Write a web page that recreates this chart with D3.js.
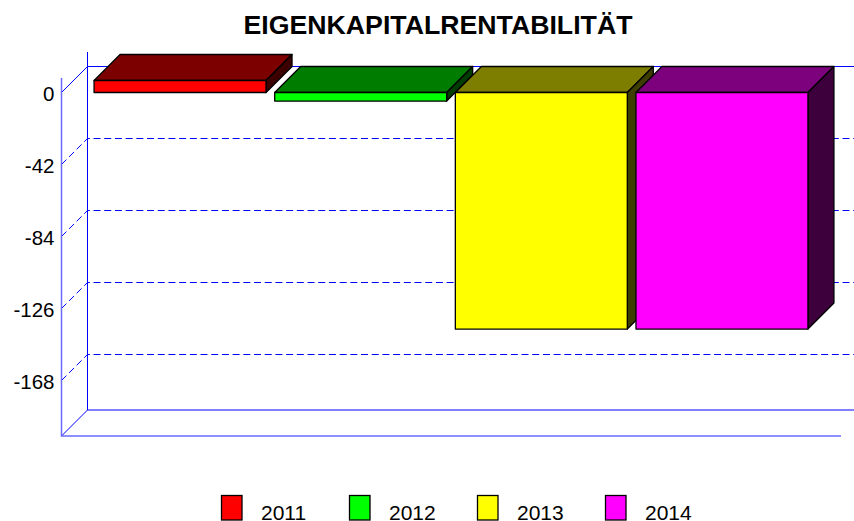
<!DOCTYPE html>
<html>
<head>
<meta charset="utf-8">
<script src="https://cdn.jsdelivr.net/npm/d3@7/dist/d3.min.js"></script>
<style>
    html, body { margin: 0; padding: 0; background: #fff; }
    svg { display: block; }
    text { font-family: "Liberation Sans", Arial, sans-serif; fill: #000; }
</style>
</head>
<body>
<div id="chart"></div>
<script>
const years = ["2011", "2012", "2013", "2014"];
const values = [7, -5, -138, -138];
const yTicks = [0, -42, -84, -126, -168];
const colors = ["#ff0000", "#00ff00", "#ffff00", "#ff00ff"];
const chartTitle = "EIGENKAPITALRENTABILITÄT";

const width = 854, height = 521;
const depth = 26;
const axisBlue = "#0000ff";

// y scale is the front plane, back plane is the same thing shifted by depth
const y = d3.scaleLinear().domain([0, -168]).range([92.5, 380.5]);
const yBottom = 436, yAxisTop = 78;
const x = d3.scaleBand().domain(years).range([61, 841])
    .paddingInner(0.048).paddingOuter(0.183);
const xLeft = 61.5, xRight = 841;

const svg = d3.select("#chart")
    .append("svg")
    .attr("width", width)
    .attr("height", height)
    .attr("viewBox", `0 0 ${width} ${height}`);

svg.append("text")
    .attr("x", 438)
    .attr("y", 34)
    .attr("text-anchor", "middle")
    .style("font-size", "26.7px")
    .style("font-weight", "bold")
    .text(chartTitle);

// grid: diagonal on the side wall + horizontal on the back wall
let grid = svg.append("g").attr("id", "grid");
grid.selectAll(".grid-line")
    .data(yTicks)
    .enter().append("path")
    .attr("class", "grid-line")
    .attr("d", d => `M${xLeft},${y(d)}L${xLeft + depth},${y(d) - depth}L${width},${y(d) - depth}`)
    .attr("fill", "none")
    .attr("stroke", axisBlue)
    .attr("stroke-dasharray", d => d === 0 ? null : "7,3.7");

// walls
let walls = svg.append("g").attr("id", "walls");
walls.append("path")
    .attr("d", `M${xLeft + depth},${yAxisTop - depth}V${yBottom - depth}H${width}`)
    .attr("fill", "none")
    .attr("stroke", axisBlue);
walls.append("path")
    .attr("d", `M${xLeft},${yBottom}L${xLeft + depth},${yBottom - depth}`)
    .attr("fill", "none")
    .attr("stroke", axisBlue);
walls.append("path")
    .attr("d", `M${xLeft},${yAxisTop}V${yBottom}H${xRight}`)
    .attr("fill", "none")
    .attr("stroke", "#6a6aff")
    .attr("stroke-width", 1.5);

// tick labels
svg.append("g")
    .attr("id", "y-axis")
    .attr("transform", `translate(${xLeft},0)`)
    .call(d3.axisLeft(y).tickValues(yTicks).tickSize(0).tickPadding(7).tickFormat(d => String(d)))
    .call(g => g.select(".domain").remove())
    .selectAll("text")
    .attr("dy", "0.4em")
    .style("font-family", '"Liberation Sans", Arial, sans-serif')
    .style("font-size", "20.5px");

// bars: front, top, side
let bars = svg.append("g").attr("id", "bars")
    .selectAll(".bar")
    .data(years.map((year, i) => ({year, value: values[i], color: colors[i]})))
    .enter().append("g")
    .attr("class", "bar");

function barBox(d) {
    let x0 = x(d.year), x1 = x0 + x.bandwidth();
    let y0 = y(Math.max(d.value, 0)), y1 = y(Math.min(d.value, 0));
    return {x0, x1, y0, y1};
}

bars.append("path")
    .attr("d", d => {
        let b = barBox(d);
        return `M${b.x0},${b.y0}L${b.x0 + depth},${b.y0 - depth}H${b.x1 + depth}L${b.x1},${b.y0}Z`;
    })
    .attr("fill", d => d3.rgb(d.color).darker(2));
bars.append("path")
    .attr("d", d => {
        let b = barBox(d);
        return `M${b.x1},${b.y0}L${b.x1 + depth},${b.y0 - depth}V${b.y1 - depth}L${b.x1},${b.y1}Z`;
    })
    .attr("fill", d => d3.rgb(d.color).darker(4));
bars.append("rect")
    .attr("x", d => barBox(d).x0)
    .attr("y", d => barBox(d).y0)
    .attr("width", x.bandwidth())
    .attr("height", d => barBox(d).y1 - barBox(d).y0)
    .attr("fill", d => d.color);
bars.selectAll("path, rect")
    .attr("stroke", "#000")
    .attr("stroke-width", 1.3)
    .attr("stroke-linejoin", "round");

// legend
const legendX = d3.scalePoint().domain(years).range([221, 605]);
let legend = svg.append("g").attr("id", "legend")
    .selectAll(".legend-item")
    .data(years)
    .enter().append("g")
    .attr("class", "legend-item")
    .attr("transform", d => `translate(${legendX(d)},0)`);
legend.append("rect")
    .attr("x", 0.5)
    .attr("y", 495.5)
    .attr("width", 20.5)
    .attr("height", 24.5)
    .attr("fill", (d, i) => colors[i])
    .attr("stroke", "#000")
    .attr("stroke-width", 1.3);
legend.append("text")
    .attr("x", 40)
    .attr("y", 520)
    .style("font-size", "21px")
    .text(d => d);
</script>
</body>
</html>
